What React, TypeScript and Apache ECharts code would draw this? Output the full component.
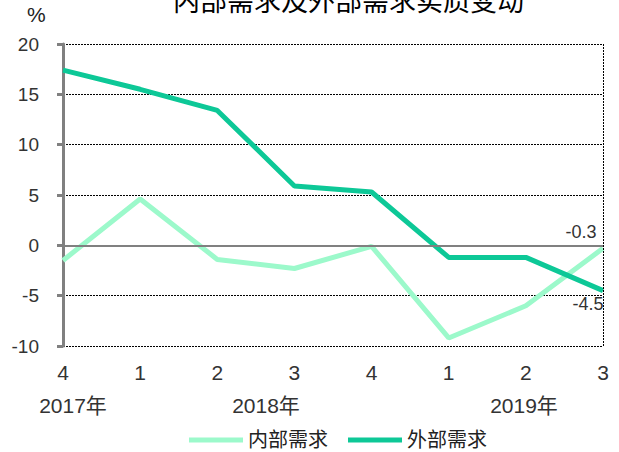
import React, { useEffect, useRef } from "react";
import * as echarts from "echarts";

const quarters = ["4", "1", "2", "3", "4", "1", "2", "3"];
const yearLabels = ["2017年", "2018年", "2019年"];
const internalDemand = [-1.5, 4.6, -1.4, -2.3, -0.1, -9.2, -6.0, -0.3];
const externalDemand = [17.4, 15.5, 13.4, 5.9, 5.3, -1.2, -1.2, -4.5];
const seriesNames = ["内部需求", "外部需求"];
const titleText = "内部需求及外部需求实质变动";

const FONT = "'Liberation Sans Narrow', 'Arial Narrow', 'Liberation Sans', 'Noto Sans CJK SC', sans-serif";
const DARK = "#0DC897";
const LIGHT = "#9CF9CB";

export default function App() {
  const ref = useRef<HTMLDivElement>(null);
  useEffect(() => {
    const chart = echarts.init(ref.current!, null, { renderer: "svg" });
    const last = quarters.length - 1;
    const lbl = { fontFamily: FONT, fontSize: 18, color: "#333", formatter: "{c}" };
    chart.setOption({
      animation: false,
      backgroundColor: "#fff",
      title: {
        text: titleText,
        left: 168,
        top: -17,
        textStyle: { fontFamily: FONT, fontSize: 27, fontWeight: "normal", color: "#000" },
      },
      grid: { left: 63, right: 16, top: 44, bottom: 106 },
      legend: {
        top: 428,
        left: 189,
        padding: 0,
        itemWidth: 54,
        itemHeight: 5,
        itemGap: 20,
        icon: "rect",
        textStyle: { fontFamily: FONT, fontSize: 20, color: "#222", lineHeight: 24 },
        data: seriesNames,
      },
      graphic: [
        { type: "text", left: 27, top: 4, style: { text: "%", font: "21px " + FONT, fill: "#222" } },
        ...yearLabels.map((t, i) => ({
          type: "text",
          x: [73, 266, 524][i],
          y: 405,
          style: { text: t, font: "21px " + FONT, fill: "#333", textAlign: "center", textVerticalAlign: "middle" },
        })),
      ],
      xAxis: {
        type: "category",
        data: quarters,
        boundaryGap: false,
        axisLine: { show: false, onZero: false },
        axisTick: { show: false },
        axisLabel: { fontFamily: FONT, fontSize: 21, color: "#333", margin: 16 },
        splitLine: { show: false },
      },
      yAxis: {
        type: "value",
        min: -10,
        max: 20,
        interval: 5,
        axisLine: { show: true, lineStyle: { color: "#808080", width: 3 } },
        axisTick: { show: true, length: 6, lineStyle: { color: "#808080", width: 3 } },
        axisLabel: { fontFamily: FONT, fontSize: 19, color: "#333", margin: 24 },
        splitLine: { show: true, lineStyle: { color: "#000", type: [2, 1], width: 1 } },
      },
      series: [
        {
          name: seriesNames[0],
          type: "line",
          data: internalDemand.map((v, i) =>
            i === last
              ? { value: v, label: { show: true, position: "top", offset: [-22, -2], ...lbl } }
              : v
          ),
          symbol: "circle",
          symbolSize: 0,
          showSymbol: true,
          lineStyle: { color: LIGHT, width: 5 },
          itemStyle: { color: LIGHT },
          z: 3,
          markLine: {
            silent: true,
            symbol: "none",
            label: { show: false },
            data: [
              { yAxis: 0, lineStyle: { color: "#808080", type: "solid", width: 2 } },
              [
                { xAxis: last, yAxis: 20, lineStyle: { color: "#000", type: [2, 1], width: 1 } },
                { xAxis: last, yAxis: -10 },
              ],
            ],
          },
        },
        {
          name: seriesNames[1],
          type: "line",
          data: externalDemand.map((v, i) =>
            i === last
              ? { value: v, label: { show: true, position: "bottom", offset: [-15, -1], ...lbl } }
              : v
          ),
          symbol: "circle",
          symbolSize: 0,
          showSymbol: true,
          lineStyle: { color: DARK, width: 5 },
          itemStyle: { color: DARK },
          z: 4,
        },
      ],
    });
    return () => chart.dispose();
  }, []);
  return <div ref={ref} style={{ width: 619, height: 452, position: "absolute", left: 0, top: 0 }} />;
}
